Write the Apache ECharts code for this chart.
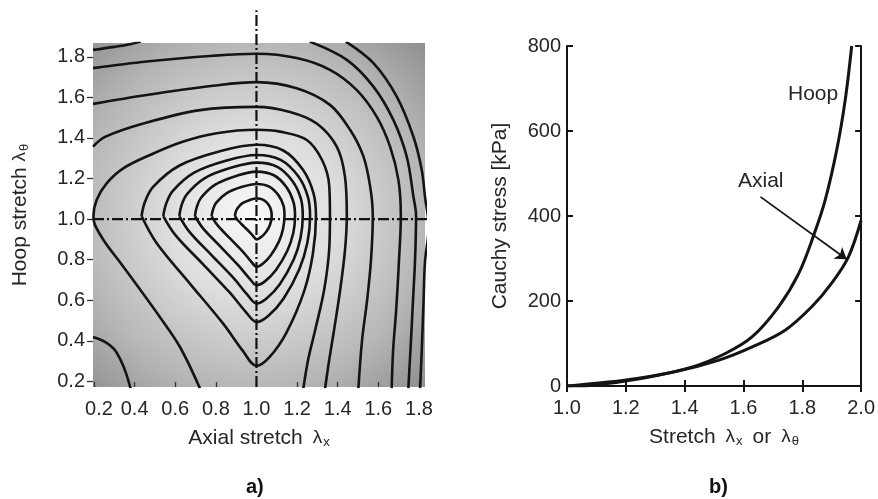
<!DOCTYPE html>
<html>
<head>
<meta charset="utf-8">
<script src="https://cdn.jsdelivr.net/npm/echarts@6/dist/echarts.min.js"></script>
<style>
  html, body { margin: 0; padding: 0; background: #ffffff; }
  #chart { width: 878px; height: 499px; }
</style>
</head>
<body>
<div id="chart"></div>
<script>
// ---------- (a) strain-energy contours over (axial stretch, hoop stretch) ----------
// closed rings around the reference state, innermost first
const ring1 = [[0.894,1.015],[0.897,1.032],[0.905,1.051],[0.929,1.077],[0.967,1.094],[1.001,1.102],[1.034,1.095],[1.059,1.072],[1.072,1.043],[1.075,1.015],[1.071,0.986],[1.060,0.957],[1.038,0.925],[1.017,0.907],[1.001,0.900],[0.988,0.911],[0.970,0.932],[0.939,0.963],[0.908,0.994],[0.894,1.015]];
const ring2 = [[0.779,1.015],[0.786,1.047],[0.801,1.080],[0.852,1.127],[0.930,1.159],[1.001,1.173],[1.063,1.160],[1.108,1.118],[1.133,1.066],[1.138,1.015],[1.131,0.952],[1.111,0.890],[1.070,0.820],[1.031,0.780],[1.001,0.765],[0.974,0.790],[0.937,0.835],[0.872,0.902],[0.808,0.970],[0.779,1.015]];
const ring3 = [[0.697,1.015],[0.706,1.059],[0.727,1.105],[0.797,1.170],[0.904,1.214],[1.001,1.234],[1.086,1.216],[1.148,1.157],[1.182,1.085],[1.190,1.015],[1.181,0.930],[1.152,0.844],[1.096,0.749],[1.043,0.694],[1.001,0.674],[0.965,0.708],[0.913,0.769],[0.825,0.862],[0.737,0.954],[0.697,1.015]];
const ring4 = [[0.620,1.015],[0.631,1.068],[0.658,1.123],[0.746,1.202],[0.879,1.254],[1.001,1.278],[1.103,1.257],[1.178,1.186],[1.219,1.099],[1.228,1.015],[1.217,0.907],[1.183,0.799],[1.115,0.679],[1.051,0.610],[1.001,0.584],[0.955,0.627],[0.891,0.705],[0.780,0.821],[0.670,0.937],[0.620,1.015]];
const ring5 = [[0.541,1.015],[0.555,1.075],[0.587,1.138],[0.693,1.229],[0.854,1.289],[1.001,1.316],[1.119,1.292],[1.206,1.211],[1.253,1.111],[1.264,1.015],[1.251,0.884],[1.211,0.753],[1.133,0.607],[1.059,0.523],[1.001,0.492],[0.946,0.544],[0.868,0.638],[0.734,0.780],[0.601,0.921],[0.541,1.015]];
const ring6 = [[0.434,1.015],[0.451,1.085],[0.491,1.159],[0.621,1.264],[0.820,1.334],[1.001,1.366],[1.132,1.338],[1.229,1.243],[1.281,1.127],[1.293,1.015],[1.278,0.830],[1.235,0.645],[1.147,0.439],[1.065,0.320],[1.001,0.276],[0.933,0.350],[0.837,0.483],[0.672,0.682],[0.508,0.882],[0.434,1.015]];

// open levels that leave the plotted window
const arcEdge = [[0.722,0.165],[0.624,0.368],[0.525,0.516],[0.426,0.654],[0.328,0.787],[0.254,0.886],[0.205,0.970],[0.197,1.015],[0.213,1.094],[0.262,1.176],[0.344,1.250],[0.476,1.316],[0.640,1.382],[0.804,1.423],[1.001,1.440],[1.116,1.431],[1.248,1.390],[1.323,1.291],[1.358,1.168],[1.362,1.015],[1.358,0.847],[1.333,0.649],[1.289,0.452],[1.254,0.304],[1.231,0.165]];
const arc1 = [[0.195,1.357],[0.254,1.405],[0.443,1.471],[0.722,1.537],[1.001,1.553],[1.165,1.528],[1.297,1.471],[1.396,1.356],[1.436,1.208],[1.445,1.015],[1.436,0.847],[1.412,0.649],[1.382,0.452],[1.358,0.304],[1.338,0.165]];
const arc2 = [[0.195,1.568],[0.459,1.612],[0.787,1.657],[1.001,1.675],[1.198,1.645],[1.362,1.563],[1.461,1.440],[1.527,1.308],[1.560,1.160],[1.573,1.015],[1.564,0.798],[1.545,0.600],[1.520,0.402],[1.502,0.165]];
const arc3 = [[0.195,1.744],[0.459,1.777],[0.787,1.805],[1.001,1.815],[1.198,1.794],[1.362,1.736],[1.493,1.637],[1.592,1.505],[1.658,1.357],[1.699,1.193],[1.711,1.015],[1.702,0.798],[1.688,0.551],[1.673,0.353],[1.666,0.165]];
const arc4 = [[1.262,1.875],[1.445,1.785],[1.576,1.653],[1.674,1.489],[1.740,1.308],[1.773,1.110],[1.786,1.015],[1.781,0.798],[1.771,0.600],[1.761,0.402],[1.748,0.165]];
const arc5 = [[1.440,1.875],[1.576,1.769],[1.691,1.604],[1.773,1.406],[1.814,1.242],[1.830,1.110],[1.848,0.961],[1.830,0.790],[1.823,0.600],[1.816,0.402],[1.806,0.165]];
const cornerTL = [[0.195,1.834],[0.300,1.849],[0.377,1.862],[0.430,1.875]];
const cornerBL = [[0.195,0.419],[0.254,0.395],[0.298,0.360],[0.333,0.301],[0.357,0.242],[0.380,0.165]];

// dash-dot guides through the unloaded state λ = 1
const guideHoop = [[0.195,1.0],[1.945,1.0]];
const guideAxial = [[1.0,0.172],[1.0,2.03]];

const stretchTicksA = [0.2,0.4,0.6,0.8,1.0,1.2,1.4,1.6,1.8];

// ---------- (b) Cauchy stress vs stretch ----------
const hoopStretch = [1.0, 1.088, 1.257, 1.427, 1.540, 1.630, 1.720, 1.788, 1.839, 1.878, 1.917, 1.946, 1.968];
const hoopStress  = [0, 2, 18, 45, 77, 116, 187, 265, 355, 438, 555, 673, 800];
const axialStretch = [1.0, 1.201, 1.370, 1.517, 1.630, 1.743, 1.833, 1.900, 1.957, 2.0];
const axialStress  = [0, 14, 34, 61, 92, 132, 187, 242, 304, 390];
const axialPointer = [[1.658, 445], [1.951, 298]];

const FONT = "'Liberation Sans', Arial, Helvetica, sans-serif";
const INK = '#141414';
const TXT = '#262626';

const zip = (xs, ys) => xs.map((x, i) => [x, ys[i]]);
const lambdaRich = {
  t: { fontSize: 21, fontFamily: FONT, color: TXT },
  l: { fontSize: 19, fontFamily: FONT, color: TXT },
  s: { fontSize: 13, fontFamily: FONT, color: TXT, padding: [9, 0, 0, 1] }
};

const contourSeries = [ring1, ring2, ring3, ring4, ring5, ring6, arcEdge, arc1, arc2, arc3, arc4, arc5, cornerTL, cornerBL]
  .map(d => ({
    type: 'line', xAxisIndex: 0, yAxisIndex: 0, data: d,
    showSymbol: false, smooth: 0.35, silent: true,
    lineStyle: { color: INK, width: 2.6 }
  }));

const guideSeries = [guideHoop, guideAxial].map(d => ({
  type: 'line', xAxisIndex: 0, yAxisIndex: 0, data: d,
  showSymbol: false, clip: false, silent: true, z: 3,
  lineStyle: { color: '#111', width: 2.2, type: [11, 3, 2, 3] }
}));

const chart = echarts.init(document.getElementById('chart'), null, { renderer: 'canvas' });

chart.setOption({
  animation: false,
  backgroundColor: '#ffffff',
  textStyle: { fontFamily: FONT },
  grid: [
    {
      left: 93, top: 43, width: 332, height: 344,
      show: true, borderWidth: 0,
      backgroundColor: {
        type: 'radial', x: 0.48, y: 0.5, r: 0.75,
        colorStops: [
          { offset: 0, color: '#f9f9f9' },
          { offset: 0.35, color: '#dcdcdc' },
          { offset: 0.7, color: '#b6b6b6' },
          { offset: 1, color: '#8c8c8c' }
        ]
      }
    },
    { left: 567, top: 46, width: 296, height: 340 }
  ],
  xAxis: [
    {
      gridIndex: 0, type: 'value', min: 0.195, max: 1.83,
      axisLine: { show: false },
      axisTick: { show: true, inside: true, length: 5, customValues: stretchTicksA, lineStyle: { color: '#333', width: 1.3 } },
      axisLabel: {
        customValues: stretchTicksA, fontSize: 20, color: TXT, margin: 12,
        formatter: v => (v < 0.3 ? '{first|' + v.toFixed(1) + '}' : v.toFixed(1)),
        rich: { first: { fontSize: 20, color: TXT, padding: [0, 0, 0, 10] } }
      },
      splitLine: { show: false },
      name: '{t|Axial stretch}   {l|λ}{s|x}',
      nameLocation: 'middle', nameGap: 40,
      nameTextStyle: { rich: lambdaRich }
    },
    {
      gridIndex: 1, type: 'value', min: 1, max: 2, interval: 0.2,
      axisLine: { show: true, lineStyle: { color: INK, width: 2 } },
      axisTick: { show: true, inside: true, length: 6, lineStyle: { color: INK, width: 2 } },
      axisLabel: { formatter: v => v.toFixed(1), fontSize: 20, color: TXT, margin: 12 },
      splitLine: { show: false },
      name: '{t|Stretch}   {l|λ}{s|x}   {t|or}   {l|λ}{s|θ}',
      nameLocation: 'middle', nameGap: 40,
      nameTextStyle: { rich: lambdaRich, padding: [0, 0, 0, 20] }
    },
    {
      gridIndex: 1, type: 'value', position: 'top', min: 1, max: 2, interval: 0.2,
      axisLine: { show: true, lineStyle: { color: INK, width: 2 } },
      axisTick: { show: true, inside: true, length: 6, lineStyle: { color: INK, width: 2 } },
      axisLabel: { show: false },
      splitLine: { show: false }
    }
  ],
  yAxis: [
    {
      gridIndex: 0, type: 'value', min: 0.172, max: 1.868,
      axisLine: { show: false },
      axisTick: { show: true, inside: false, length: 6, customValues: stretchTicksA, lineStyle: { color: '#333', width: 1.3 } },
      axisLabel: { customValues: stretchTicksA, formatter: v => v.toFixed(1), fontSize: 20, color: TXT, margin: 8 },
      splitLine: { show: false },
      name: '{t|Hoop stretch }{l|λ}{s|θ}',
      nameLocation: 'middle', nameRotate: 90, nameGap: 62,
      nameTextStyle: { rich: lambdaRich }
    },
    {
      gridIndex: 1, type: 'value', min: 0, max: 800, interval: 200,
      axisLine: { show: true, lineStyle: { color: INK, width: 2 } },
      axisTick: { show: true, inside: true, length: 6, lineStyle: { color: INK, width: 2 } },
      axisLabel: { fontSize: 20, color: TXT, margin: 6 },
      splitLine: { show: false },
      name: 'Cauchy stress [kPa]',
      nameLocation: 'middle', nameRotate: 90, nameGap: 56,
      nameTextStyle: { fontSize: 21, color: TXT }
    },
    {
      gridIndex: 1, type: 'value', position: 'right', min: 0, max: 800, interval: 200,
      axisLine: { show: true, lineStyle: { color: INK, width: 2 } },
      axisTick: { show: true, inside: true, length: 6, lineStyle: { color: INK, width: 2 } },
      axisLabel: { show: false },
      splitLine: { show: false }
    }
  ],
  series: [
    ...contourSeries,
    ...guideSeries,
    {
      name: 'Hoop', type: 'line', xAxisIndex: 1, yAxisIndex: 1,
      data: zip(hoopStretch, hoopStress), showSymbol: false, smooth: 0.35,
      lineStyle: { color: INK, width: 3 }
    },
    {
      name: 'Axial', type: 'line', xAxisIndex: 1, yAxisIndex: 1,
      data: zip(axialStretch, axialStress), showSymbol: false, smooth: 0.35,
      lineStyle: { color: INK, width: 3 },
      markLine: {
        silent: true, symbol: ['none', 'arrow'], symbolSize: 11,
        label: { show: false },
        lineStyle: { color: INK, width: 1.8, type: 'solid' },
        data: [[{ coord: axialPointer[0] }, { coord: axialPointer[1] }]]
      }
    }
  ],
  graphic: [
    { type: 'text', left: 788, top: 84, style: { text: 'Hoop', font: "21px 'Liberation Sans', Arial, sans-serif", fill: TXT } },
    { type: 'text', left: 738, top: 171, style: { text: 'Axial', font: "21px 'Liberation Sans', Arial, sans-serif", fill: TXT } },
    { type: 'text', left: 246, top: 477, style: { text: 'a)', font: "bold 20px 'Liberation Sans', Arial, sans-serif", fill: '#111' } },
    { type: 'text', left: 709, top: 477, style: { text: 'b)', font: "bold 20px 'Liberation Sans', Arial, sans-serif", fill: '#111' } }
  ]
});
</script>
</body>
</html>
